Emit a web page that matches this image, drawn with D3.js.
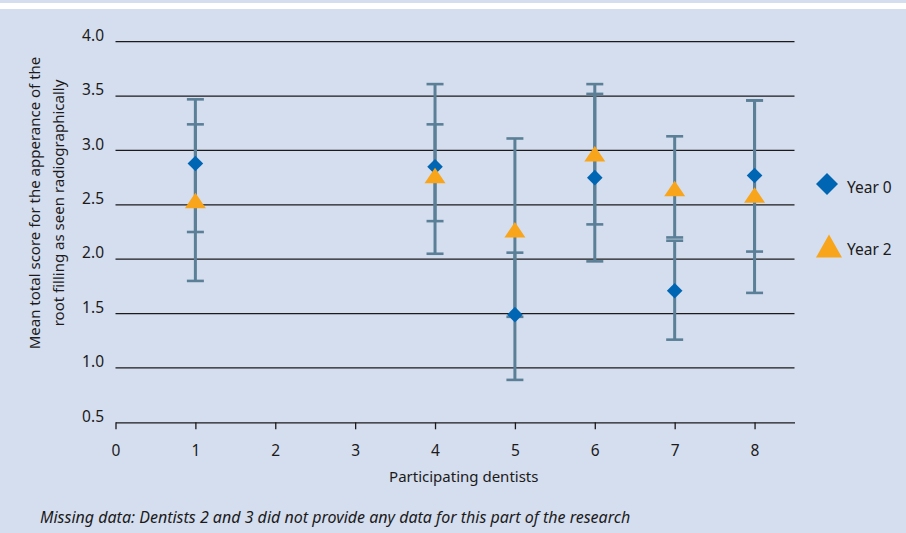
<!DOCTYPE html>
<html>
<head>
<meta charset="utf-8">
<script src="https://cdn.jsdelivr.net/npm/d3@7"></script>
<style>
  body { margin: 0; background: #fff; }
  svg { display: block; font-family: "Noto Sans", "Open Sans", sans-serif; }
</style>
</head>
<body>
<svg id="chart"></svg>
<script>
// dentists that gave data (2 and 3 missing)
const dentists = [1, 4, 5, 6, 7, 8]

const year0Mean = [2.88, 2.85, 1.49, 2.75, 1.71, 2.77]
const year0Low  = [2.25, 2.05, 0.89, 1.98, 1.26, 2.07]
const year0High = [3.47, 3.61, 2.06, 3.52, 2.17, 3.46]

const year2Mean = [2.54, 2.77, 2.27, 2.97, 2.65, 2.59]
const year2Low  = [1.80, 2.35, 1.47, 2.32, 2.20, 1.69]
const year2High = [3.24, 3.24, 3.11, 3.61, 3.13, 3.46]

const xTicks = [0, 1, 2, 3, 4, 5, 6, 7, 8]
const yTicks = [0.5, 1.0, 1.5, 2.0, 2.5, 3.0, 3.5, 4.0]
const seriesNames = ['Year 0', 'Year 2']

const width = 906, height = 533
const bg = '#d4deee'
const ink = '#1c1a1b'
const barColor = '#5b7f97'
const blue = '#0066b3'
const orange = '#f8a51b'

const svg = d3.select('#chart')
    .attr('width', width)
    .attr('height', height)

// background + white strip at the top
svg.append('rect').attr('width', width).attr('height', height).attr('fill', bg)
svg.append('rect').attr('y', 3).attr('width', width).attr('height', 6).attr('fill', '#fff')

const x = d3.scaleLinear().domain([0, 8.5]).range([115.5, 794.5])
const y = d3.scaleLinear().domain([0.5, 4]).range([422.3, 41.7])

// gridlines
svg.append('g')
    .selectAll('line')
    .data(yTicks.slice(1))
    .join('line')
    .attr('x1', x(0)).attr('x2', x(8.5))
    .attr('y1', d => y(d)).attr('y2', d => y(d))
    .attr('stroke', ink)
    .attr('stroke-width', 1.3)

// y tick labels
svg.append('g')
    .selectAll('text')
    .data(yTicks)
    .join('text')
    .attr('x', 104)
    .attr('y', d => y(d))
    .attr('dy', '-0.05em')
    .attr('text-anchor', 'end')
    .attr('font-size', 15.5)
    .attr('fill', ink)
    .text(d => d.toFixed(1))

// x axis
const xAxis = svg.append('g')
    .attr('transform', `translate(0,${y(0.5)})`)
    .call(d3.axisBottom(x).tickValues(xTicks).tickSize(7).tickSizeOuter(0).tickPadding(16))
xAxis.select('.domain').attr('stroke', ink).attr('stroke-width', 1.3)
xAxis.selectAll('.tick line').attr('stroke', ink).attr('stroke-width', 1.3)
xAxis.selectAll('.tick text')
    .attr('font-size', 15.5)
    .attr('font-family', '"Noto Sans", sans-serif')
    .attr('fill', ink)

svg.append('text')
    .attr('x', x(4.36))
    .attr('y', 482)
    .attr('text-anchor', 'middle')
    .attr('font-size', 15)
    .attr('fill', ink)
    .text('Participating dentists')

// y title, two lines
const yTitle = svg.append('text')
    .attr('transform', 'translate(0,203) rotate(-90)')
    .attr('text-anchor', 'middle')
    .attr('font-size', 15)
    .attr('fill', ink)
yTitle.append('tspan').attr('x', 0).attr('y', 40).text('Mean total score for the apperance of the')
yTitle.append('tspan').attr('x', 0).attr('y', 64).text('root filling as seen radiographically')

// footnote
svg.append('text')
    .attr('x', 40)
    .attr('y', 523)
    .attr('font-size', 16)
    .attr('font-style', 'italic')
    .attr('fill', ink)
    .text('Missing data: Dentists 2 and 3 did not provide any data for this part of the research')

const series = [
    {name: seriesNames[0], mean: year0Mean, low: year0Low, high: year0High},
    {name: seriesNames[1], mean: year2Mean, low: year2Low, high: year2High}
]

// error bars first
const bars = svg.append('g')
series.forEach(s => {
    const rows = dentists.map((d, i) => ({d, lo: s.low[i], hi: s.high[i]}))
    const g = bars.append('g')
    g.selectAll('line.stem')
        .data(rows)
        .join('line')
        .attr('class', 'stem')
        .attr('x1', r => x(r.d)).attr('x2', r => x(r.d))
        .attr('y1', r => y(r.lo)).attr('y2', r => y(r.hi))
        .attr('stroke', barColor).attr('stroke-width', 3)
    g.selectAll('line.cap')
        .data(rows.flatMap(r => [{d: r.d, v: r.lo}, {d: r.d, v: r.hi}]))
        .join('line')
        .attr('class', 'cap')
        .attr('x1', r => x(r.d) - 8.5).attr('x2', r => x(r.d) + 8.5)
        .attr('y1', r => y(r.v)).attr('y2', r => y(r.v))
        .attr('stroke', barColor).attr('stroke-width', 2.6)
})

// marker shapes centred on the point
const diamond = s => `M0,${-s}L${s},0L0,${s}L${-s},0Z`
const triangle = (w, h) => `M0,${-h / 2}L${w / 2},${h / 2}L${-w / 2},${h / 2}Z`

svg.append('g')
    .selectAll('path')
    .data(dentists.map((d, i) => ({d, v: year0Mean[i]})))
    .join('path')
    .attr('transform', p => `translate(${x(p.d)},${y(p.v)})`)
    .attr('d', diamond(7.8))
    .attr('fill', blue)

svg.append('g')
    .selectAll('path')
    .data(dentists.map((d, i) => ({d, v: year2Mean[i]})))
    .join('path')
    .attr('transform', p => `translate(${x(p.d)},${y(p.v)})`)
    .attr('d', triangle(21, 15.5))
    .attr('fill', orange)

// legend
const legend = svg.append('g')
const legendRows = [
    {name: seriesNames[0], cy: 184, shape: diamond(11), color: blue, cx: 827},
    {name: seriesNames[1], cy: 246, shape: triangle(26, 23), color: orange, cx: 829}
]
legendRows.forEach(r => {
    legend.append('path')
        .attr('transform', `translate(${r.cx},${r.cy})`)
        .attr('d', r.shape)
        .attr('fill', r.color)
    legend.append('text')
        .attr('x', 847)
        .attr('y', r.cy + 4)
        .attr('dy', '0.3em')
        .attr('font-size', 15.5)
        .attr('fill', ink)
        .text(r.name)
})
</script>
</body>
</html>
